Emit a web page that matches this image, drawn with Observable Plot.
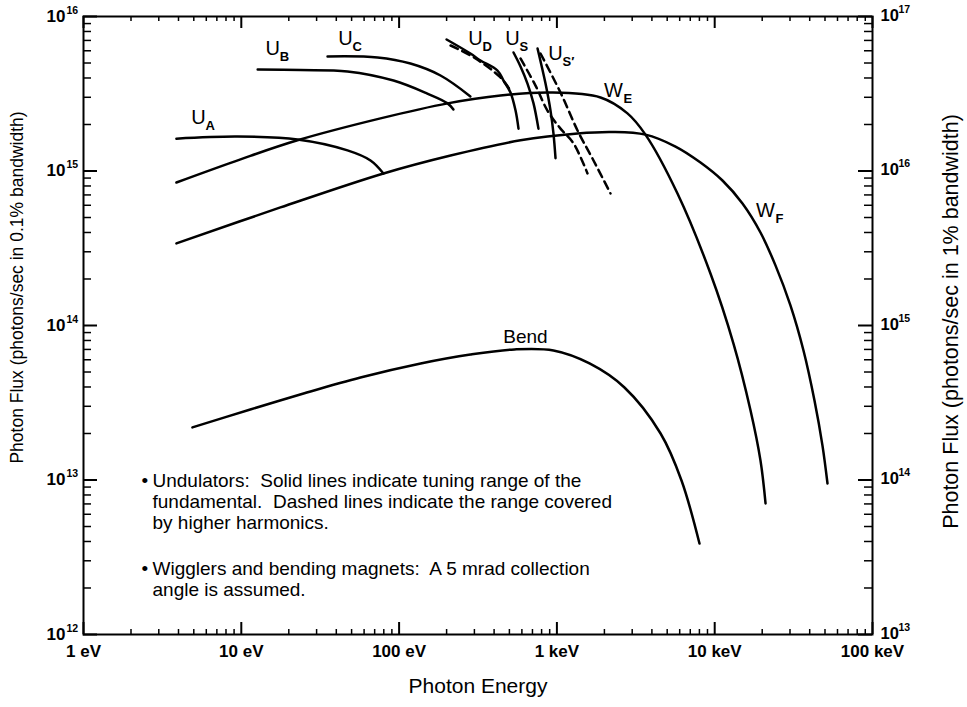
<!DOCTYPE html>
<html><head><meta charset="utf-8">
<script src="https://cdn.jsdelivr.net/npm/d3@7"></script>
<script src="https://cdn.jsdelivr.net/npm/@observablehq/plot@0.6"></script>
<style>body{margin:0;background:#fff}</style>
</head><body><div id="chart"></div>
<script>
// ---- axis ticks ----
const xTicks = [1, 10, 100, 1000, 10000, 100000];
const xTickLabels = ["1 eV", "10 eV", "100 eV", "1 keV", "10 keV", "100 keV"];
const yTicks = [1e12, 1e13, 1e14, 1e15, 1e16];
const yLeftExp = ["12", "13", "14", "15", "16"];
const yRightExp = ["13", "14", "15", "16", "17"];
const minorMult = [2, 3, 4, 5, 6, 7, 8, 9];

// ---- curves: [photon energy (eV), photon flux (photons/s in 0.1% bw)] ----
const bend = [[4.9,2.19e13],[11.4,2.86e13],[24.8,3.63e13],[56.9,4.61e13],[137,5.68e13],[283,6.49e13],[539,7.0e13],[951,6.89e13],[1610,5.68e13],[2680,3.97e13],[4540,2.0e13],[6160,9.93e12],[8010,3.88e12]];
const wigE = [[3.88,8.43e14],[9.89,1.19e15],[22.7,1.58e15],[76.2,2.19e15],[203,2.74e15],[439,3.08e15],[911,3.22e15],[1890,2.99e15],[2800,2.36e15],[3640,1.72e15],[5810,7.15e14],[9400,2.17e14],[13150,7.64e13],[16870,2.82e13],[19500,1.34e13],[21000,7.05e12]];
const wigF = [[3.88,3.40e14],[17.7,5.81e14],[79.6,9.64e14],[212,1.26e15],[588,1.58e15],[1350,1.75e15],[2250,1.79e15],[3640,1.72e15],[5645,1.44e15],[8128,1.135e15],[11200,8.68e14],[15000,6.16e14],[19500,4.0e14],[24270,2.45e14],[30200,1.35e14],[36530,6.89e13],[42890,3.27e13],[48200,1.67e13],[51860,9.49e12]];
const undA = [[3.88,1.62e15],[9.46,1.67e15],[22.7,1.60e15],[47.1,1.36e15],[65.9,1.17e15],[79.6,9.64e14]];
const undB = [[12.7,4.54e15],[23.7,4.50e15],[47.1,4.41e15],[92.2,3.85e15],[151,3.17e15],[203,2.74e15],[221,2.50e15]];
const undC = [[35.2,5.51e15],[73,5.43e15],[118,4.96e15],[183,4.15e15],[283,3.04e15]];
const undD = [[200,7.1e15],[283,5.76e15],[328,5.19e15],[420,4.47e15],[459,3.85e15],[508,3.22e15],[547,2.46e15],[571,1.88e15]];
const undDh = [[212,6.49e15],[305,5.35e15],[439,4.03e15],[508,3.32e15]];
const undS = [[531,5.85e15],[588,4.75e15],[651,3.68e15],[711,2.74e15],[764,1.88e15]];
const undSh = [[588,5.35e15],[732,3.57e15],[871,2.46e15],[1054,1.88e15],[1274,1.51e15],[1563,9.64e14]];
const undSp = [[754,6.21e15],[847,3.68e15],[911,2.46e15],[951,1.75e15],[980,1.21e15]];
const undSph = [[787,5.76e15],[1054,3.22e15],[1351,1.83e15],[1706,1.17e15],[2187,7.15e14]];

// ---- curve labels ----
const labelMain = ["U", "U", "U", "U", "U", "U", "W", "W"];
const labelSub = ["A", "B", "C", "D", "S", "S\u2032", "E", "F"];
const labelE = [5.36, 15.8, 45.8, 305, 523, 980, 2285, 21000];
const labelF = [2.22e15, 6.21e15, 7.21e15, 7.21e15, 7.21e15, 5.76e15, 3.32e15, 5.55e14];
const bendLabel = {text: "Bend", e: 632, f: 8.49e13};

const notes1 = "Undulators:  Solid lines indicate tuning range of the\nfundamental.  Dashed lines indicate the range covered\nby higher harmonics.";
const notes2 = "Wigglers and bending magnets:  A 5 mrad collection\nangle is assumed.";

const W = 967, H = 707, mL = 83, mR = 95, mT = 16, mB = 73;
const pw = W - mL - mR, ph = H - mT - mB;
const xMinor = xTicks.slice(0, -1).flatMap(d => minorMult.map(m => d * m));
const yMinor = yTicks.slice(0, -1).flatMap(d => minorMult.map(m => d * m));
const labels = labelMain.map((t, i) => ({t, s: labelSub[i], e: labelE[i], f: labelF[i]}));
const uLabels = labels.filter(d => d.t === "U");
const wLabels = labels.filter(d => d.t === "W");
const solid = [undA, undB, undC, undD, undS, undSp, wigE, wigF, bend];
const dashed = [undDh, undSh, undSph];

const lineOpts = {x: d => d[0], y: d => d[1], stroke: "#000", strokeWidth: 2.5, curve: "catmull-rom"};
const noteOpts = {frameAnchor: "top-left", lineAnchor: "top", textAnchor: "start", fontSize: 19, lineHeight: 1.1, dx: 69};
const subOpts = {x: "e", y: "f", text: "s", textAnchor: "start", dy: 8, fontSize: 13, fontWeight: "bold"};

const chart = Plot.plot({
  width: W, height: H,
  marginLeft: mL, marginRight: mR, marginTop: mT, marginBottom: mB,
  style: {fontFamily: "'Liberation Sans', Arial, sans-serif", background: "#fff", color: "#000", whiteSpace: "pre"},
  x: {type: "log", domain: [1, 1e5], axis: null},
  y: {type: "log", domain: [1e12, 1e16], axis: null},
  marks: [
    Plot.frame({stroke: "#000", strokeWidth: 2}),
    // ticks bottom/top
    Plot.tickX(xMinor, {x: d => d, insetTop: ph - 5, strokeWidth: 1.5}),
    Plot.tickX(xMinor, {x: d => d, insetBottom: ph - 5, strokeWidth: 1.5}),
    Plot.tickX(xTicks, {x: d => d, insetTop: ph - 12, strokeWidth: 2}),
    Plot.tickX(xTicks, {x: d => d, insetBottom: ph - 12, strokeWidth: 2}),
    // ticks left/right
    Plot.tickY(yMinor, {y: d => d, insetRight: pw - 8, strokeWidth: 1.5}),
    Plot.tickY(yMinor, {y: d => d, insetLeft: pw - 8, strokeWidth: 1.5}),
    Plot.tickY(yTicks, {y: d => d, insetRight: pw - 14, strokeWidth: 2}),
    Plot.tickY(yTicks, {y: d => d, insetLeft: pw - 14, strokeWidth: 2}),
    // tick labels
    Plot.text(xTicks, {x: d => d, frameAnchor: "bottom", dy: 22, text: (d, i) => xTickLabels[i], fontSize: 17, fontWeight: "bold"}),
    Plot.text(yTicks, {y: d => d, frameAnchor: "left", dx: -18, textAnchor: "end", text: () => "10", fontSize: 17, fontWeight: "bold"}),
    Plot.text(yTicks, {y: d => d, frameAnchor: "left", dx: -17, dy: -6, textAnchor: "start", text: (d, i) => yLeftExp[i], fontSize: 10.5, fontWeight: "bold"}),
    Plot.text(yTicks, {y: d => d, frameAnchor: "right", dx: 8, dy: -1, textAnchor: "start", text: () => "10", fontSize: 16.5, fontWeight: "bold"}),
    Plot.text(yTicks, {y: d => d, frameAnchor: "right", dx: 26, dy: -7, textAnchor: "start", text: (d, i) => yRightExp[i], fontSize: 10.5, fontWeight: "bold"}),
    // axis titles
    Plot.text(["Photon Energy"], {frameAnchor: "bottom", dy: 58, fontSize: 21}),
    Plot.text(["Photon Flux (photons/sec in 0.1% bandwidth)"], {frameAnchor: "left", textAnchor: "middle", dx: -66, dy: -38, rotate: -90, fontSize: 17.5}),
    Plot.text(["Photon Flux (photons/sec in 1% bandwidth)"], {frameAnchor: "right", textAnchor: "middle", dx: 79, dy: -4, rotate: -90, fontSize: 21.5}),
    // curves
    ...solid.map(c => Plot.line(c, lineOpts)),
    ...dashed.map(c => Plot.line(c, {...lineOpts, strokeDasharray: "8,5"})),
    // curve labels
    Plot.text(labels, {x: "e", y: "f", text: "t", fontSize: 20}),
    Plot.text(uLabels, {...subOpts, dx: 7}),
    Plot.text(wLabels, {...subOpts, dx: 10}),
    Plot.text([bendLabel], {x: "e", y: "f", text: "text", fontSize: 19}),
    // notes
    Plot.text(["\u2022"], {...noteOpts, dx: 58, dy: 456}),
    Plot.text([notes1], {...noteOpts, dy: 456}),
    Plot.text(["\u2022"], {...noteOpts, dx: 58, dy: 544}),
    Plot.text([notes2], {...noteOpts, dy: 544})
  ]
});
document.getElementById("chart").appendChild(chart);
</script>
</body></html>
